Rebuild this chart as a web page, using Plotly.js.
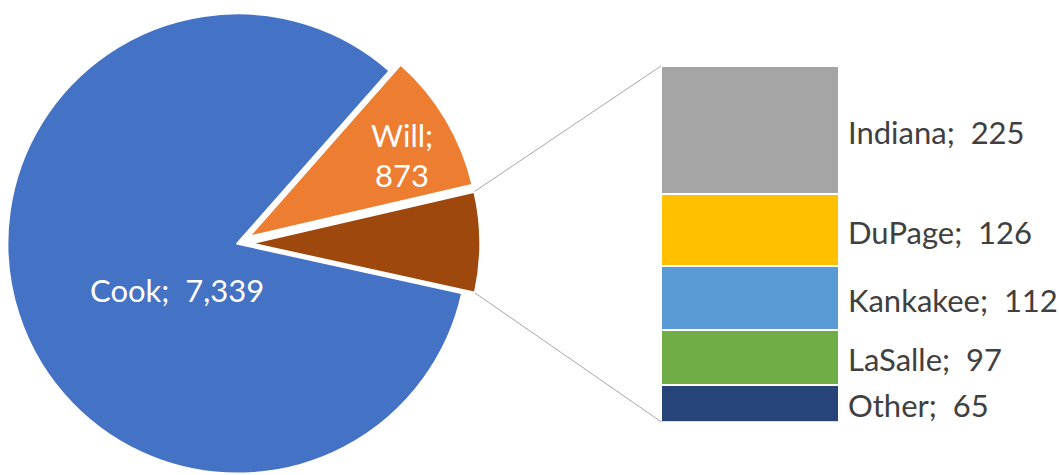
<!DOCTYPE html>
<html>
<head>
<meta charset="utf-8">
<script src="https://cdn.plot.ly/plotly-3.0.1.min.js"></script>
<style>
  html, body { margin: 0; padding: 0; overflow: hidden; background: #ffffff; }
  #wrap { position: relative; width: 1059px; height: 475px; overflow: hidden; }
  #plot { position: absolute; left: -8px; top: -6px; width: 1070px; height: 500px; }
</style>
</head>
<body>
<div id="wrap"><div id="plot"></div></div>
<script>
// ---- data ----
const pieLabels = ['Cook', 'Will', 'Other'];
const pieValues = [7339, 873];            // Cook, Will ("Other" = sum of bar values)
const barLabels = ['Indiana', 'DuPage', 'Kankakee', 'LaSalle', 'Other'];
const barValues = [225, 126, 112, 97, 65];

// ---- styles ----
const pieColors = {Cook: '#4472C4', Will: '#ED7D31', Other: '#9E480E'};
const barColors = ['#A5A5A5', '#FFC000', '#5B9BD5', '#70AD47', '#264478'];
const FONT = 'Lato, "Open Sans", "DejaVu Sans", sans-serif';
const FS = 31;

const W = 1070, H = 500;
const otherTotal = barValues.reduce((a, b) => a + b, 0);
const cookV = pieValues[0], willV = pieValues[1];
const total = cookV + willV + otherTotal;

const pull = 0.055;
const rotation = 41.4;
const pieDomX = [2.5 / W, 488.5 / W];
const pieDomY = [0.015, 0.987];

// pie trace: order Will, Other, Cook clockwise
const pieTrace = {
  type: 'pie',
  labels: ['Will', 'Other', 'Cook'],
  values: [willV, otherTotal, cookV],
  sort: false,
  direction: 'clockwise',
  rotation: rotation,
  pull: [pull, pull, 0],
  marker: {colors: [pieColors.Will, pieColors.Other, pieColors.Cook], line: {color: '#ffffff', width: 2.5}},
  textinfo: 'none',
  hoverinfo: 'skip',
  domain: {x: pieDomX, y: pieDomY},
  showlegend: false
};

// stacked bar: bottom-up = reverse order
const barTraces = [];
for (let i = barLabels.length - 1; i >= 0; i--) {
  barTraces.push({
    type: 'bar',
    x: [0],
    y: [barValues[i]],
    name: barLabels[i],
    marker: {color: barColors[i], line: {color: '#ffffff', width: 2}},
    hoverinfo: 'skip',
    showlegend: false
  });
}

const barDomX = [669 / W, 847 / W];
const barDomY = [0.1446, 0.856];

// bar labels
const annotations = [];
let cum = 0;
for (let i = barLabels.length - 1; i >= 0; i--) {
  const mid = cum + barValues[i] / 2;
  cum += barValues[i];
  annotations.push({
    xref: 'x', yref: 'y', x: 0.5, y: mid,
    xanchor: 'left', yanchor: 'middle', xshift: 7, yshift: -2,
    text: barLabels[i] + ';&nbsp;&nbsp;' + barValues[i].toLocaleString('en-US'),
    showarrow: false,
    font: {family: FONT, size: FS, color: '#404040'}
  });
}
// pie labels
annotations.push({
  xref: 'paper', yref: 'paper', x: 185 / W, y: 1 - 296 / H,
  xanchor: 'center', yanchor: 'middle',
  text: pieLabels[0] + ';&nbsp;&nbsp;' + cookV.toLocaleString('en-US'),
  showarrow: false, font: {family: FONT, size: FS, color: '#ffffff'}
});
annotations.push({
  xref: 'paper', yref: 'paper', x: 410 / W, y: 1 - 161 / H,
  xanchor: 'center', yanchor: 'middle',
  text: pieLabels[1] + ';<br>' + willV.toLocaleString('en-US'),
  showarrow: false, font: {family: FONT, size: FS, color: '#ffffff'}
});

// connector lines from the "Other" slice corners to the bar corners
const boxW = W * (pieDomX[1] - pieDomX[0]);
const boxH = H * (pieDomY[1] - pieDomY[0]);
const r = Math.min(boxW, boxH) / (2 + 2 * pull);
const cx = W * (pieDomX[0] + pieDomX[1]) / 2;
const cy = H * (1 - (pieDomY[0] + pieDomY[1]) / 2);
const d2r = Math.PI / 180;
const a0 = rotation + 360 * willV / total;
const a1 = a0 + 360 * otherTotal / total;
const am = (a0 + a1) / 2;
const ox = cx + pull * r * Math.sin(am * d2r);
const oy = cy - pull * r * Math.cos(am * d2r);
function corner(a) {
  return [(ox + r * Math.sin(a * d2r)) / W, 1 - (oy - r * Math.cos(a * d2r)) / H];
}
const pTop = corner(a0), pBot = corner(a1);
const shapes = [
  {type: 'line', xref: 'paper', yref: 'paper', x0: pTop[0], y0: pTop[1], x1: barDomX[0], y1: barDomY[1],
   line: {color: '#A6A6A6', width: 1}},
  {type: 'line', xref: 'paper', yref: 'paper', x0: pBot[0], y0: pBot[1], x1: barDomX[0], y1: barDomY[0],
   line: {color: '#A6A6A6', width: 1}}
];

const layout = {
  width: W, height: H,
  margin: {l: 0, r: 0, t: 0, b: 0, pad: 0},
  paper_bgcolor: '#ffffff', plot_bgcolor: 'rgba(0,0,0,0)',
  barmode: 'stack', bargap: 0,
  xaxis: {domain: barDomX, range: [-0.5, 0.5], visible: false, fixedrange: true},
  yaxis: {domain: barDomY, range: [0, otherTotal], visible: false, fixedrange: true},
  showlegend: false,
  hovermode: false,
  annotations: annotations,
  shapes: shapes,
  font: {family: FONT}
};

Plotly.newPlot('plot', [pieTrace].concat(barTraces), layout, {staticPlot: true, displayModeBar: false});
</script>
</body>
</html>
